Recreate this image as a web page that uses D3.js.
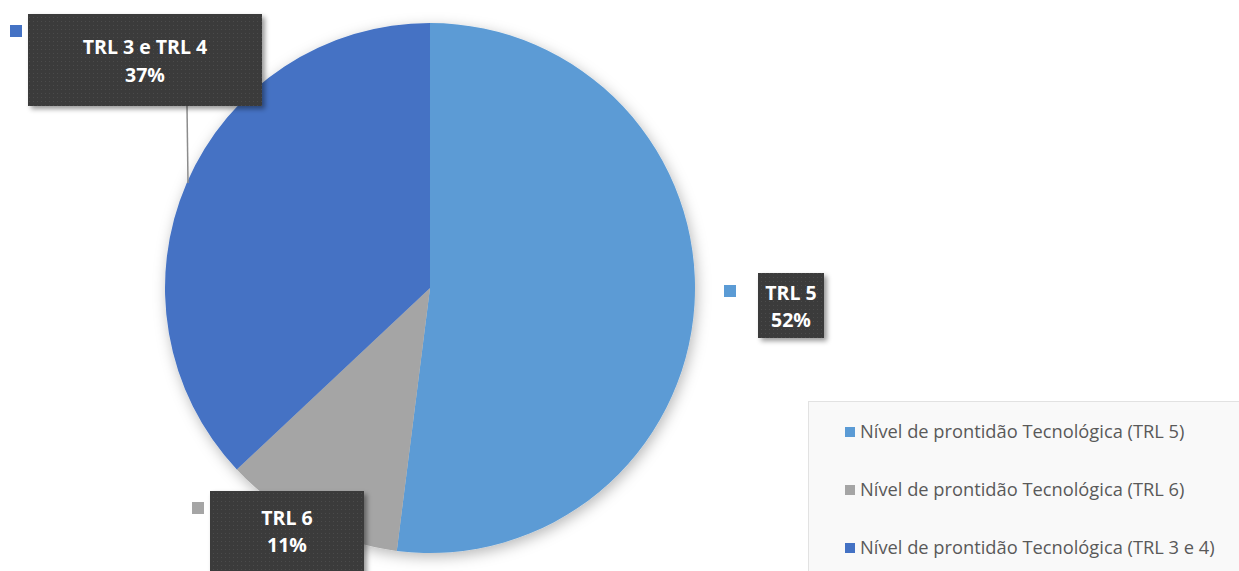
<!DOCTYPE html>
<html>
<head>
<meta charset="utf-8">
<script src="https://cdn.jsdelivr.net/npm/d3@7"></script>
<style>
  html, body { margin: 0; padding: 0; background: #fff; }
  svg { display: block; }
</style>
</head>
<body>
<div id="chart"></div>
<script>
// dados
const categories = ["TRL 5", "TRL 6", "TRL 3 e TRL 4"];
const values = [52, 11, 37];
const legendLabels = [
  "Nível de prontidão Tecnológica (TRL 5)",
  "Nível de prontidão Tecnológica (TRL 6)",
  "Nível de prontidão Tecnológica (TRL 3 e 4)"
];
const colors = ["#5b9bd5", "#a5a5a5", "#4472c4"];

const width = 1239, height = 571;
const cx = 430, cy = 288, radius = 265;

const svg = d3.select("#chart").append("svg")
  .attr("width", width).attr("height", height);

const defs = svg.append("defs");
const shadow = defs.append("filter").attr("id", "pieShadow")
  .attr("x", "-20%").attr("y", "-20%").attr("width", "140%").attr("height", "140%");
shadow.append("feDropShadow").attr("dx", 2).attr("dy", 4)
  .attr("stdDeviation", 7).attr("flood-color", "#000").attr("flood-opacity", 0.28);

const boxShadow = defs.append("filter").attr("id", "boxShadow")
  .attr("x", "-20%").attr("y", "-20%").attr("width", "150%").attr("height", "150%");
boxShadow.append("feDropShadow").attr("dx", 3).attr("dy", 3)
  .attr("stdDeviation", 2.5).attr("flood-color", "#000").attr("flood-opacity", 0.4);

const pat = defs.append("pattern").attr("id", "dots")
  .attr("width", 4).attr("height", 4).attr("patternUnits", "userSpaceOnUse");
pat.append("rect").attr("width", 4).attr("height", 4).attr("fill", "#3b3b3b");
pat.append("rect").attr("x", 1).attr("y", 1).attr("width", 1).attr("height", 1).attr("fill", "#4c4c4c");

// legenda (atrás, como no original)
const legend = svg.append("g");
legend.append("rect")
  .attr("x", 808.5).attr("y", 401.5).attr("width", 440).attr("height", 200)
  .attr("fill", "#f9f9f9").attr("stroke", "#e2e2e2");

const ly = d3.scalePoint().domain(d3.range(categories.length)).range([432, 548]);
const li = legend.selectAll("g.item").data(legendLabels).join("g").attr("class", "item")
  .attr("transform", (d, i) => `translate(845,${ly(i)})`);
li.append("rect").attr("x", 0).attr("y", -5).attr("width", 10).attr("height", 10)
  .attr("fill", (d, i) => colors[i]);
li.append("text").attr("x", 15).attr("dy", "0.35em")
  .attr("font-family", "'Open Sans', sans-serif").attr("font-size", 18.3)
  .attr("fill", "#595959").text(d => d);

// pizza
const pie = d3.pie().sort(null).value(d => d)(values);
const arc = d3.arc().innerRadius(0).outerRadius(radius);

const pieG = svg.append("g").attr("transform", `translate(${cx},${cy})`)
  .attr("filter", "url(#pieShadow)");
pieG.selectAll("path").data(pie).join("path")
  .attr("d", arc)
  .attr("fill", (d, i) => colors[i]);

// rótulos de dados
const labelBoxes = [
  { x: 758, y: 273, w: 66, h: 65, mx: 724, my: 285, b1: 300, b2: 327 },
  { x: 210, y: 491, w: 154, h: 95, mx: 192, my: 502, b1: 525, b2: 552 },
  { x: 28, y: 14, w: 234, h: 92, mx: 10, my: 25, b1: 54, b2: 82 }
];

// linha de chamada do TRL 3 e 4
svg.append("line")
  .attr("x1", 187).attr("y1", labelBoxes[2].y + labelBoxes[2].h)
  .attr("x2", 188).attr("y2", 183)
  .attr("stroke", "#8c8c8c").attr("stroke-width", 1.5);

const labels = svg.selectAll("g.lbl").data(pie).join("g").attr("class", "lbl");
labels.append("rect")
  .attr("x", (d, i) => labelBoxes[i].mx).attr("y", (d, i) => labelBoxes[i].my)
  .attr("width", 12).attr("height", 12).attr("fill", (d, i) => colors[i]);
labels.append("rect")
  .attr("x", (d, i) => labelBoxes[i].x).attr("y", (d, i) => labelBoxes[i].y)
  .attr("width", (d, i) => labelBoxes[i].w).attr("height", (d, i) => labelBoxes[i].h)
  .attr("fill", "url(#dots)").attr("filter", "url(#boxShadow)");
const lt = labels.append("text")
  .attr("text-anchor", "middle")
  .attr("font-family", "'Open Sans', sans-serif").attr("font-weight", "bold")
  .attr("font-size", 19.5).attr("fill", "#fff");
lt.append("tspan")
  .attr("x", (d, i) => labelBoxes[i].x + labelBoxes[i].w / 2)
  .attr("y", (d, i) => labelBoxes[i].b1)
  .text((d, i) => categories[i]);
lt.append("tspan")
  .attr("x", (d, i) => labelBoxes[i].x + labelBoxes[i].w / 2)
  .attr("y", (d, i) => labelBoxes[i].b2)
  .text(d => d.data + "%");
</script>
</body>
</html>
